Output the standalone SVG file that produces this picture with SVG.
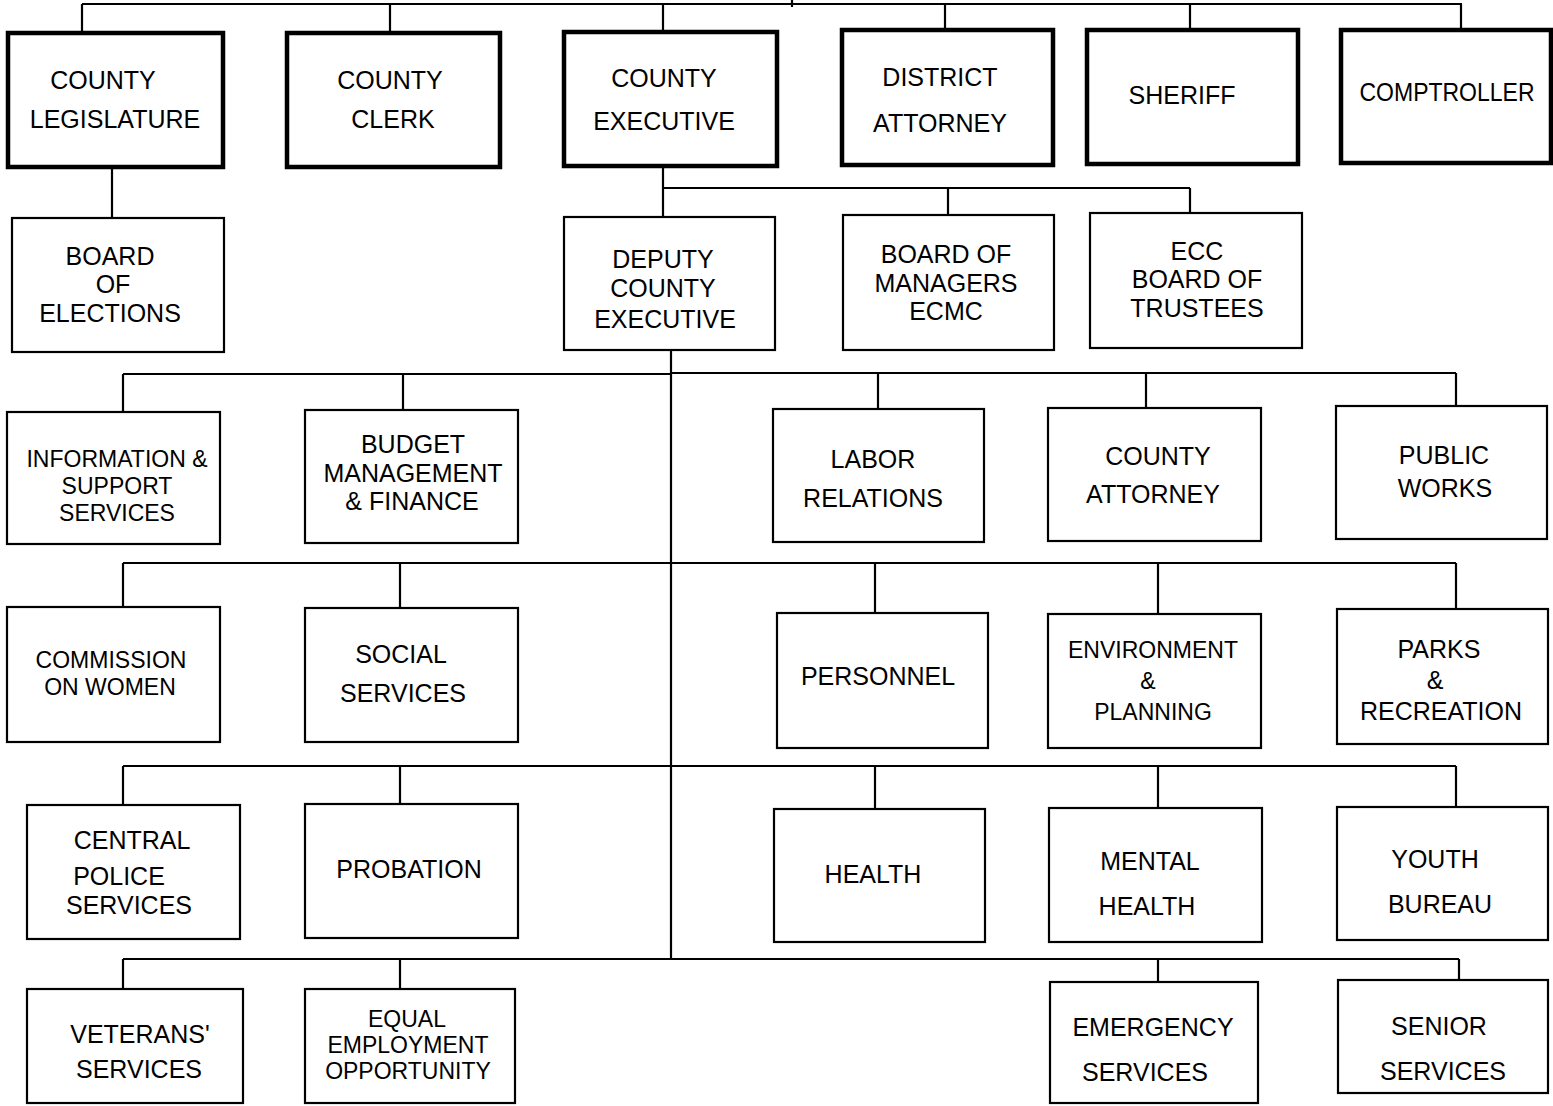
<svg xmlns="http://www.w3.org/2000/svg" width="1553" height="1106" viewBox="0 0 1553 1106">
<style>
.box{fill:#fff;stroke:#000;stroke-width:2.2}
.top{stroke-width:4.5}
.ln{fill:none;stroke:#000;stroke-width:2.2}
text{font-family:"Liberation Sans",Arial,sans-serif;font-size:25px;text-anchor:middle;fill:#000}
.s23{font-size:23px}
</style>
<rect width="1553" height="1106" fill="#fff"/>
<g id="connectors">
<path class="ln" d="M82,4H1462M82,4V33M390,4V33M663,4V32M945,4V30M1190,4V30M1461,4V30M792,0V7"/>
<path class="ln" d="M112,167V218"/>
<path class="ln" d="M663,166V217M663,188H1190M948,188V215M1190,188V213"/>
<path class="ln" d="M671,345V959"/>
<path class="ln" d="M123,374H671M671,373H1456M123,374V412M403,374V410M878,373V409M1146,373V408M1456,373V406"/>
<path class="ln" d="M123,563H1456M123,563V607M400,563V608M875,563V613M1158,563V614M1456,563V609"/>
<path class="ln" d="M123,766H1456M123,766V805M400,766V804M875,766V809M1158,766V808M1456,766V807"/>
<path class="ln" d="M123,959H1459M123,959V989M400,959V989M1158,959V982M1459,959V980"/>
</g>
<g id="county-legislature"><rect class="box top" x="8" y="33" width="215" height="134"/><text x="103" y="89">COUNTY</text><text x="115" y="128">LEGISLATURE</text></g>
<g id="county-clerk"><rect class="box top" x="287" y="33" width="213" height="134"/><text x="390" y="89">COUNTY</text><text x="393" y="128">CLERK</text></g>
<g id="county-executive"><rect class="box top" x="564" y="32" width="213" height="134"/><text x="664" y="87">COUNTY</text><text x="664" y="130">EXECUTIVE</text></g>
<g id="district-attorney"><rect class="box top" x="842" y="30" width="211" height="135"/><text x="940" y="86">DISTRICT</text><text x="940" y="132">ATTORNEY</text></g>
<g id="sheriff"><rect class="box top" x="1087" y="30" width="211" height="134"/><text x="1182" y="104">SHERIFF</text></g>
<g id="comptroller"><rect class="box top" x="1341" y="30" width="210" height="133"/><text x="1447" y="101" font-size="24" textLength="175" lengthAdjust="spacingAndGlyphs">COMPTROLLER</text></g>
<g id="board-of-elections"><rect class="box" x="12" y="218" width="212" height="134"/><text x="110" y="265">BOARD</text><text x="113" y="293">OF</text><text x="110" y="322">ELECTIONS</text></g>
<g id="deputy-county-executive"><rect class="box" x="564" y="217" width="211" height="133"/><text x="663" y="268">DEPUTY</text><text x="663" y="297">COUNTY</text><text x="665" y="328">EXECUTIVE</text></g>
<g id="board-of-managers-ecmc"><rect class="box" x="843" y="215" width="211" height="135"/><text x="946" y="263">BOARD OF</text><text x="946" y="292">MANAGERS</text><text x="946" y="320">ECMC</text></g>
<g id="ecc-board-of-trustees"><rect class="box" x="1090" y="213" width="212" height="135"/><text x="1197" y="260">ECC</text><text x="1197" y="288">BOARD OF</text><text x="1197" y="317">TRUSTEES</text></g>
<g id="information-support-services"><rect class="box" x="7" y="412" width="213" height="132"/><text class="s23" x="117" y="467">INFORMATION &amp;</text><text class="s23" x="117" y="494">SUPPORT</text><text class="s23" x="117" y="521">SERVICES</text></g>
<g id="budget-management-finance"><rect class="box" x="305" y="410" width="213" height="133"/><text x="413" y="453">BUDGET</text><text x="413" y="482">MANAGEMENT</text><text x="412" y="510">&amp; FINANCE</text></g>
<g id="labor-relations"><rect class="box" x="773" y="409" width="211" height="133"/><text x="873" y="468">LABOR</text><text x="873" y="507">RELATIONS</text></g>
<g id="county-attorney"><rect class="box" x="1048" y="408" width="213" height="133"/><text x="1158" y="465">COUNTY</text><text x="1153" y="503">ATTORNEY</text></g>
<g id="public-works"><rect class="box" x="1336" y="406" width="211" height="133"/><text x="1444" y="464">PUBLIC</text><text x="1445" y="497">WORKS</text></g>
<g id="commission-on-women"><rect class="box" x="7" y="607" width="213" height="135"/><text class="s23" x="111" y="668">COMMISSION</text><text class="s23" x="110" y="695">ON WOMEN</text></g>
<g id="social-services"><rect class="box" x="305" y="608" width="213" height="134"/><text x="401" y="663">SOCIAL</text><text x="403" y="702">SERVICES</text></g>
<g id="personnel"><rect class="box" x="777" y="613" width="211" height="135"/><text x="878" y="685">PERSONNEL</text></g>
<g id="environment-planning"><rect class="box" x="1048" y="614" width="213" height="134"/><text class="s23" x="1153" y="658">ENVIRONMENT</text><text class="s23" x="1148" y="689">&amp;</text><text class="s23" x="1153" y="720">PLANNING</text></g>
<g id="parks-recreation"><rect class="box" x="1337" y="609" width="211" height="135"/><text x="1439" y="658">PARKS</text><text x="1435" y="689">&amp;</text><text x="1441" y="720">RECREATION</text></g>
<g id="central-police-services"><rect class="box" x="27" y="805" width="213" height="134"/><text x="132" y="849">CENTRAL</text><text x="119" y="885">POLICE</text><text x="129" y="914">SERVICES</text></g>
<g id="probation"><rect class="box" x="305" y="804" width="213" height="134"/><text x="409" y="878">PROBATION</text></g>
<g id="health"><rect class="box" x="774" y="809" width="211" height="133"/><text x="873" y="883">HEALTH</text></g>
<g id="mental-health"><rect class="box" x="1049" y="808" width="213" height="134"/><text x="1150" y="870">MENTAL</text><text x="1147" y="915">HEALTH</text></g>
<g id="youth-bureau"><rect class="box" x="1337" y="807" width="211" height="133"/><text x="1435" y="868">YOUTH</text><text x="1440" y="913">BUREAU</text></g>
<g id="veterans-services"><rect class="box" x="27" y="989" width="216" height="114"/><text x="140" y="1043">VETERANS'</text><text x="139" y="1078">SERVICES</text></g>
<g id="equal-employment-opportunity"><rect class="box" x="305" y="989" width="210" height="114"/><text class="s23" x="407" y="1027">EQUAL</text><text class="s23" x="408" y="1053">EMPLOYMENT</text><text class="s23" x="408" y="1079">OPPORTUNITY</text></g>
<g id="emergency-services"><rect class="box" x="1050" y="982" width="208" height="121"/><text x="1153" y="1036">EMERGENCY</text><text x="1145" y="1081">SERVICES</text></g>
<g id="senior-services"><rect class="box" x="1338" y="980" width="210" height="113"/><text x="1439" y="1035">SENIOR</text><text x="1443" y="1080">SERVICES</text></g>
</svg>
